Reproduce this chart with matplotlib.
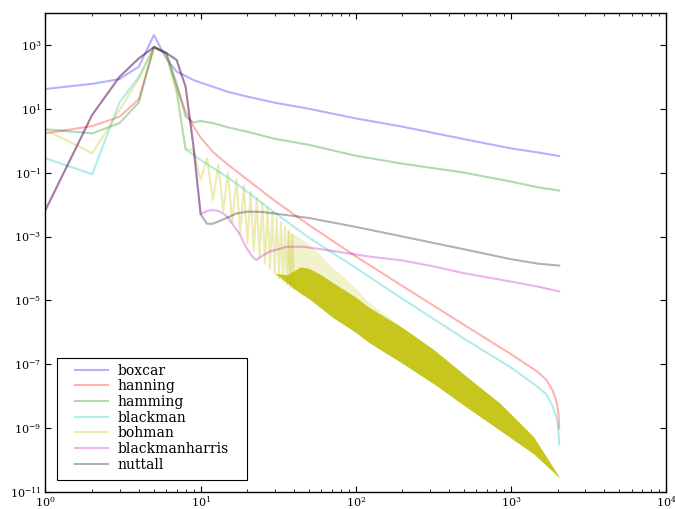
import numpy as np
import matplotlib
matplotlib.use("Agg")
import matplotlib.pyplot as plt
from matplotlib.ticker import FixedLocator, LogLocator, NullFormatter
from matplotlib.patches import Rectangle

plt.rcParams['mathtext.fontset'] = 'cm'
plt.rcParams['font.family'] = ['DejaVu Serif']

# ---------------- data ----------------
x_box = [1, 2, 3, 4, 5, 6, 7, 8, 9, 10, 12, 15, 20, 30, 50, 100, 200, 500, 1000, 1500, 2048]
boxcar = [41.7, 60.3, 85.1, 209, 2042, 380, 145, 107, 79.4, 66.1, 49.0, 33.9, 24.0, 15.5,
          10.0, 5.0, 2.75, 1.12, 0.575, 0.427, 0.331]

x_han = [1, 2, 3, 4, 5, 6, 7, 8, 9, 10, 12, 15, 20, 30, 50, 100, 200, 500, 1000, 1500,
         1700, 1850, 1950, 2000, 2030, 2048]
hanning = [1.70, 2.88, 5.62, 20.0, 851, 550, 49.0, 8.13, 2.75, 1.26, 0.447, 0.178, 0.0603,
           0.0132, 2.29e-3, 2.40e-4, 2.82e-5, 1.70e-6, 2.09e-7, 5.62e-8, 3.16e-8, 1.58e-8,
           7.94e-9, 4.47e-9, 2.51e-9, 1.0e-9]

x_ham = [1, 2, 3, 4, 5, 6, 7, 8, 9, 10, 12, 15, 20, 30, 50, 100, 200, 500, 1000, 1500, 2048]
hamming = [2.29, 1.70, 3.55, 15.8, 891, 550, 63.1, 5.62, 3.72, 4.17, 3.55, 2.63, 1.91, 1.15,
           0.741, 0.339, 0.191, 0.100, 0.0525, 0.0347, 0.0275]

x_bla = [1, 2, 3, 4, 5, 6, 7, 8, 9, 10, 12, 15, 20, 30, 50, 100, 200, 500, 1000, 1500,
         1700, 1850, 1950, 2000, 2030, 2048]
blackman = [0.282, 0.0891, 15.8, 100, 851, 525, 39.8, 0.537, 0.355, 0.251, 0.141, 0.0708,
            0.0251, 5.62e-3, 9.12e-4, 1.05e-4, 1.12e-5, 6.31e-7, 7.94e-8, 1.91e-8, 1.12e-8,
            5.01e-9, 2.51e-9, 1.41e-9, 7.08e-10, 3.16e-10]

# bohman: individual bins where the zig-zag is resolved
x_boh = list(range(1, 41))
bohman = [2.19, 0.407, 8.91, 89.1, 851, 537, 31.6, 0.537, 0.501, 0.0589,
          0.282, 0.0138, 0.178, 6.31e-3, 0.100, 2.82e-3, 0.0631, 1.26e-3, 0.0398, 6.31e-4,
          0.0251, 3.55e-4, 0.0158, 2.24e-4, 0.0112, 1.41e-4, 7.94e-3, 1.0e-4, 5.62e-3, 7.08e-5,
          3.98e-3, 5.01e-5, 2.82e-3, 3.98e-5, 2.0e-3, 3.16e-5, 1.58e-3, 2.51e-5, 1.12e-3, 2.24e-5]
# bohman: outer envelope of the zig-zag band (sparse, light part)
x_boh_band = [36, 44, 50, 60, 72, 100, 120, 200, 320, 520, 850, 1400, 2000, 2048]
bohman_top = [1.58e-3, 8.91e-4, 5.62e-4, 2.51e-4, 1.0e-4, 2.51e-5, 8.91e-6, 1.41e-6,
              2.82e-7, 4.07e-8, 6.03e-9, 5.37e-10, 3.55e-11, 2.82e-11]
bohman_low = [3.55e-5, 1.66e-5, 1.12e-5, 5.62e-6, 2.82e-6, 1.0e-6, 5.01e-7, 1.07e-7,
              2.40e-8, 4.47e-9, 8.51e-10, 1.58e-10, 3.16e-11, 2.75e-11]
# bohman: dense core of the band
x_boh_core = [30, 36, 44, 50, 60, 72, 100, 120, 200, 320, 520, 850, 1400, 2000, 2048]
bohman_core_top = [7.08e-5, 6.31e-5, 1.12e-4, 1.0e-4, 6.31e-5, 3.47e-5, 1.26e-5, 6.31e-6,
                   1.41e-6, 2.82e-7, 4.07e-8, 6.03e-9, 5.37e-10, 3.55e-11, 2.82e-11]
bohman_core_low = [7.08e-5, 3.55e-5, 1.66e-5, 1.12e-5, 5.62e-6, 2.82e-6, 1.0e-6, 5.01e-7,
                   1.07e-7, 2.40e-8, 4.47e-9, 8.51e-10, 1.58e-10, 3.16e-11, 2.75e-11]

x_bh = [1, 2, 3, 4, 5, 6, 7, 8, 9, 10, 11, 12, 13, 14, 15, 16, 17, 18, 19, 20, 21, 22, 23,
        25, 28, 36, 46, 75, 124, 200, 320, 500, 1000, 1500, 2048]
blackmanharris = [6.76e-3, 6.46, 100, 380, 851, 562, 339, 49.0, 0.646, 5.01e-3, 6.31e-3,
                  6.76e-3, 6.31e-3, 5.25e-3, 3.98e-3, 2.51e-3, 1.66e-3, 1.12e-3, 6.31e-4,
                  3.98e-4, 2.82e-4, 2.09e-4, 1.86e-4, 2.51e-4, 3.39e-4, 4.79e-4, 4.79e-4,
                  3.39e-4, 2.34e-4, 1.78e-4, 1.15e-4, 7.08e-5, 3.89e-5, 2.69e-5, 1.91e-5]

x_nut = [1, 2, 3, 4, 5, 6, 7, 8, 9, 10, 11, 12, 13, 15, 17, 20, 25, 30, 50, 100, 200, 500,
         1000, 1500, 2048]
nuttall = [6.76e-3, 6.46, 100, 380, 851, 562, 339, 49.0, 0.646, 5.01e-3, 2.51e-3, 2.51e-3,
           2.95e-3, 3.98e-3, 5.25e-3, 6.03e-3, 5.89e-3, 5.25e-3, 3.80e-3, 2.0e-3, 1.0e-3,
           3.98e-4, 1.95e-4, 1.41e-4, 1.23e-4]

names = ['boxcar', 'hanning', 'hamming', 'blackman', 'bohman', 'blackmanharris', 'nuttall']
colors = ['b', 'r', 'g', 'c', (0.75, 0.75, 0.0), 'm', 'k']

# ---------------- figure ----------------
fig = plt.figure(figsize=(6.75, 5.09), dpi=100)
ax = fig.add_axes([0.0674, 0.0334, 0.9193, 0.9411])

lw = 1.5
al = 0.3
ax.loglog(x_box, boxcar, color=colors[0], lw=lw, alpha=al, label=names[0])
ax.loglog(x_han, hanning, color=colors[1], lw=lw, alpha=al, label=names[1])
ax.loglog(x_ham, hamming, color=colors[2], lw=lw, alpha=al, label=names[2])
ax.loglog(x_bla, blackman, color=colors[3], lw=lw, alpha=al, label=names[3])
ax.loglog(x_boh, bohman, color=colors[4], lw=lw, alpha=al, label=names[4])
ax.fill_between(x_boh_band, bohman_low, bohman_top, color=colors[4], alpha=0.2, lw=0)
ax.fill_between(x_boh_core, bohman_core_low, bohman_core_top, color=colors[4], alpha=0.85, lw=0)
ax.loglog(x_bh, blackmanharris, color=colors[5], lw=lw, alpha=al, label=names[5])
ax.loglog(x_nut, nuttall, color=colors[6], lw=lw, alpha=al, label=names[6])

ax.set_xlim(1, 1e4)
ax.set_ylim(1e-11, 1e4)
ax.yaxis.set_major_locator(FixedLocator([1e-11, 1e-9, 1e-7, 1e-5, 1e-3, 1e-1, 1e1, 1e3]))
ax.yaxis.set_minor_locator(FixedLocator([]))
ax.xaxis.set_major_locator(FixedLocator([1, 10, 100, 1000, 10000]))
ax.xaxis.set_minor_locator(LogLocator(base=10, subs=np.arange(2, 10), numticks=20))
ax.xaxis.set_minor_formatter(NullFormatter())

ax.tick_params(which='both', direction='in', top=True, right=True, labelsize=8)
ax.tick_params(axis='x', which='major', pad=2)
ax.tick_params(axis='y', which='major', pad=3)
ax.tick_params(which='major', length=4)
ax.tick_params(which='minor', length=2)
for s in ax.spines.values():
    s.set_linewidth(1.0)

# legend: entries without frame, frame drawn as a plain rectangle
leg = ax.legend(loc='upper left', bbox_to_anchor=(0.047, 0.268), borderaxespad=0,
                borderpad=0, fontsize=10, handlelength=2.4, handletextpad=0.7,
                labelspacing=0.12, frameon=False)
ax.add_patch(Rectangle((0.019, 0.025), 0.305, 0.254, transform=ax.transAxes,
                       fill=True, facecolor='white', edgecolor='k', lw=0.8, zorder=4))
leg.set_zorder(5)

fig.savefig('out.png', dpi=100)
